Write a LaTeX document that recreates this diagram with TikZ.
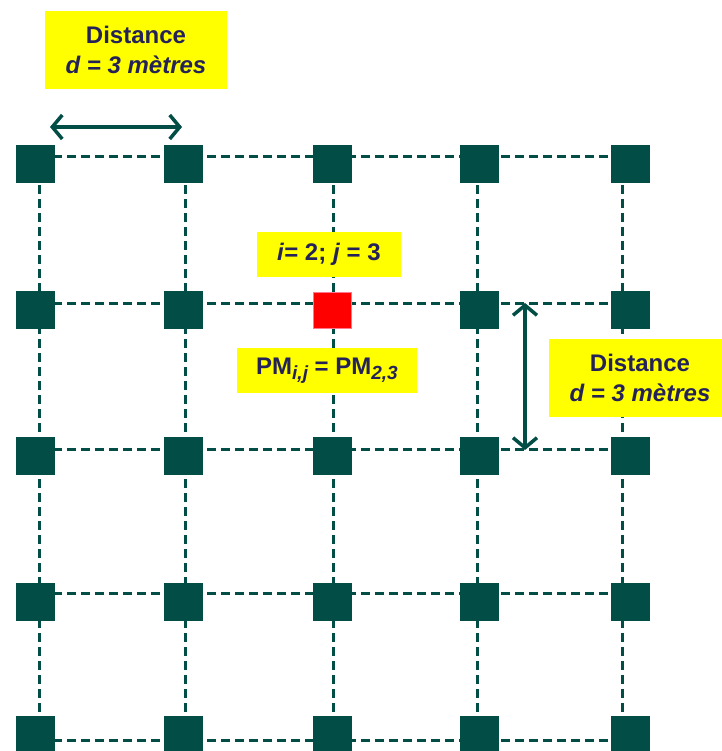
\documentclass[tikz,border=0pt]{standalone}
\usepackage{fontspec}
\setmainfont{Liberation Sans}
\usetikzlibrary{arrows.meta}
\definecolor{grn}{RGB}{2,78,70}
\definecolor{ylw}{RGB}{255,255,0}
\definecolor{navy}{RGB}{36,34,88}
\definecolor{redsq}{RGB}{255,0,0}
\definecolor{redbd}{RGB}{255,120,140}
\newcommand{\subtxt}[1]{\raisebox{-5.5pt}{\fontsize{19}{19}\selectfont\itshape #1}}
\begin{document}
\begin{tikzpicture}[x=1pt,y=-1pt,
  sq/.style={rectangle, fill=grn, minimum width=39pt, minimum height=38pt, inner sep=0pt},
  hot/.style={rectangle, fill=redsq, draw=redbd, line width=0.8pt, minimum width=38pt, minimum height=36pt, inner sep=0pt},
  gridl/.style={draw=grn, line width=3pt, dash pattern=on 9pt off 5pt},
  lbl/.style={rectangle, fill=ylw, text=navy, font=\fontsize{24}{30}\selectfont\bfseries, inner sep=0pt, align=center},
  dimarrow/.style={draw=grn, line width=3.5pt, {Straight Barb[length=10pt,width=24pt]}-{Straight Barb[length=10pt,width=24pt]}}
]
\useasboundingbox (0,0) rectangle (721,751);
% grid line intersections
\foreach \c/\x in {1/39,2/185,3/333,4/477,5/622}{
  \foreach \r/\y in {1/157,2/303,3/449,4/593,5/740}{
    \coordinate (g\r\c) at (\x,\y);
  }
}
\foreach \r in {1,...,5}{ \draw[gridl] (g\r1) -- (g\r5); }
\foreach \c in {1,...,5}{ \draw[gridl] (g1\c) -- (g5\c); }
% squares
\foreach \c/\x in {1/35.5,2/183,3/332.5,4/479.5,5/630}{
  \foreach \r/\y in {1/164,2/310,3/456,4/602,5/735}{
    \ifnum\r\c=23\relax\else
      \node[sq] (s\r\c) at (\x,\y) {};
    \fi
  }
}
\node[hot] (s23) at (332.5,310.5) {};
% labels
\node[lbl, minimum width=182pt, minimum height=78pt] (dtop) at (136,50) {Distance\\\textit{d = 3 mètres}};
\node[lbl, minimum width=182pt, minimum height=78pt] (dright) at (640,378) {Distance\\\textit{d = 3 mètres}};
\node[lbl, minimum width=144pt, minimum height=45pt] (ij) at (329,254.5) {\textit{i}= 2; \textit{j} = 3};
\node[lbl, minimum width=180pt, minimum height=45pt] (pm) at (327,370.5) {PM\subtxt{i,j} = PM\subtxt{2,3}};
% dimension arrows
\coordinate (a1) at (50,127);
\coordinate (a2) at (182,127);
\draw[dimarrow] (a1) -- (a2);
\coordinate (b1) at (525,303);
\coordinate (b2) at (525,450);
\draw[dimarrow] (b1) -- (b2);
\end{tikzpicture}
\end{document}
